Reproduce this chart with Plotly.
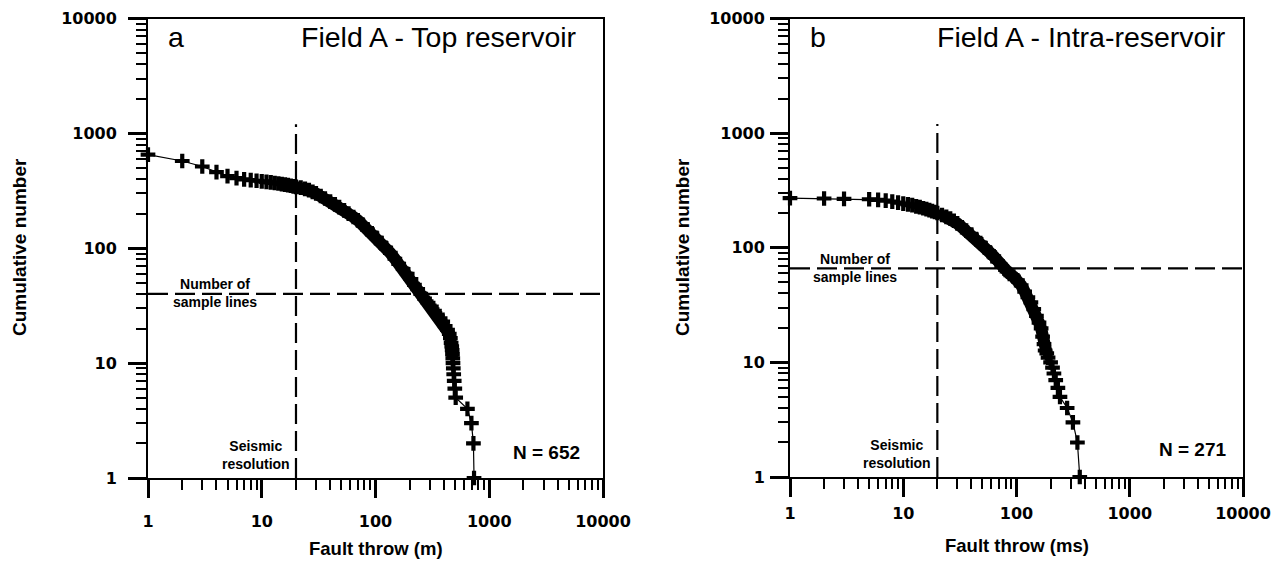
import plotly.graph_objects as go

W, H = 1284, 569
FONT = "Liberation Sans, Arial, sans-serif"
TICKFONT = "DejaVu Sans, Liberation Sans, sans-serif"
OFF = 8  # the page body adds an 8 px margin; positions below are window pixels

# ---------------- data ----------------
# Panel a : Field A - Top reservoir, fault throw (m) vs cumulative number
throw_a = [1, 2, 3, 4, 5, 6, 7, 8, 9, 10, 11, 12, 13, 14, 15, 16, 17, 18, 19, 20,
           22, 24, 26, 28, 30, 33, 36, 40, 44, 48,
           53, 58, 64, 70, 77, 85, 93, 102, 112, 123,
           135, 148, 160, 175, 190, 205, 220, 235, 250, 270,
           290, 310, 330, 350, 370, 390, 410, 430, 445, 455,
           462, 468, 472, 475, 478, 480, 483, 487, 492, 498,
           507, 643, 697, 726, 735]
cum_a = [652, 575, 515, 460, 425, 408, 398, 392, 387, 382, 378, 374, 370, 366, 362, 358, 354, 350, 346, 342,
         337, 329, 320, 310, 300, 285, 271, 255, 241, 228,
         214, 200, 187, 175, 161, 146, 135, 123, 111, 101,
         91, 81, 73, 66, 60, 54, 48, 44, 40, 36.5,
         33.5, 31, 28.5, 26.5, 24.5, 23, 21, 19.5, 18, 16.5,
         15, 14, 13, 12, 11, 10, 9, 8, 7, 6,
         5, 4, 3, 2, 1]
dense_a = (19, 64)   # index span where the plotted points merge into a solid band

# Panel b : Field A - Intra-reservoir, fault throw (ms) vs cumulative number
throw_b = [1, 2, 3, 5, 6, 7, 8, 9, 10, 11, 12, 13, 14, 15, 16, 17, 18, 19, 20,
           22, 24, 26, 28, 30, 33, 36, 40, 44, 48,
           53, 58, 63, 68, 74, 80, 87, 94, 102, 110,
           118, 126, 134, 142, 150, 158, 165, 170, 175, 179,
           185, 190, 200, 208, 214, 222, 232, 242, 280, 315,
           345, 362]
cum_b = [271, 269, 267, 265, 262, 258, 253, 248, 243, 239, 235, 230, 226, 221, 217, 213, 209, 205, 201,
         193, 186, 180, 172, 163, 151, 141, 130, 119, 110,
         100, 91, 84, 76, 69, 64, 59, 56, 52, 47,
         41.5, 37, 33.4, 29.2, 25.4, 22.2, 19.8, 16.8, 14.4, 12.7,
         12, 11, 10, 9, 8, 7, 6, 5, 4, 3,
         2, 1]
dense_b = (19, 49)

seismic_resolution = 20          # vertical dashed line (both panels)
resolution_line_top = 1200
sample_lines_a = 40              # horizontal dashed line, panel a
sample_lines_b = 66              # horizontal dashed line, panel b
axis_min, axis_max = 1, 10000

major_ticks = [1, 10, 100, 1000, 10000]
major_text = ["1", "10", "100", "1000", "10000"]
minor_ticks = [m * 10 ** k for k in range(4) for m in range(2, 10)]

titles = ["Field A - Top reservoir", "Field A - Intra-reservoir"]
letters = ["a", "b"]
n_labels = ["N = 652", "N = 271"]
x_titles = ["Fault throw (m)", "Fault throw (ms)"]
y_title = "Cumulative number"


def px(x):
    return (x - OFF) / W


def py(y):
    return 1 - (y - OFF) / H


fig = go.Figure()

dash = "20px,7px"
for i, (xs, ys, samp, dense) in enumerate([(throw_a, cum_a, sample_lines_a, dense_a),
                                           (throw_b, cum_b, sample_lines_b, dense_b)]):
    xa = "x" if i == 0 else "x2"
    ya = "y" if i == 0 else "y2"
    # dashed reference lines
    fig.add_trace(go.Scatter(x=[seismic_resolution, seismic_resolution],
                             y=[axis_min, resolution_line_top], mode="lines",
                             line=dict(color="black", width=2.2, dash=dash),
                             xaxis=xa, yaxis=ya, showlegend=False, hoverinfo="skip"))
    fig.add_trace(go.Scatter(x=[axis_min, axis_max], y=[samp, samp], mode="lines",
                             line=dict(color="black", width=2.2, dash=dash),
                             xaxis=xa, yaxis=ya, showlegend=False, hoverinfo="skip"))
    # solid band where the many points overlap
    a, b = dense
    fig.add_trace(go.Scatter(x=xs[a:b + 1], y=ys[a:b + 1], mode="lines",
                             line=dict(color="black", width=12),
                             xaxis=xa, yaxis=ya, showlegend=False, hoverinfo="skip"))
    # data
    fig.add_trace(go.Scatter(x=xs, y=ys, mode="lines+markers",
                             line=dict(color="black", width=1.2),
                             marker=dict(symbol="cross-thin", size=10.5,
                                         line=dict(color="black", width=4.2)),
                             cliponaxis=False,
                             xaxis=xa, yaxis=ya, showlegend=False))


def axis(domain, standoff):
    return dict(type="log", range=[0, 4], domain=domain, automargin=False,
                showline=True, linewidth=2, linecolor="black", mirror=True,
                ticks="outside", ticklen=18, tickwidth=2.5, tickcolor="black",
                tickvals=major_ticks, ticktext=major_text,
                tickfont=dict(family=TICKFONT, size=16, color="black", weight="bold"),
                ticklabelstandoff=standoff, ticklabeloverflow="allow",
                showgrid=False, zeroline=False,
                minor=dict(tickvals=minor_ticks, ticklen=10, tickwidth=2,
                           ticks="outside", tickcolor="black", showgrid=False))


fig.update_layout(
    width=W, height=H,
    margin=dict(l=0, r=0, t=0, b=0, pad=0, autoexpand=False),
    paper_bgcolor="white", plot_bgcolor="white",
    showlegend=False,
    xaxis=dict(axis([px(148), px(603)], 10), anchor="y"),
    yaxis=dict(axis([py(478), py(18.5)], 8), anchor="x"),
    xaxis2=dict(axis([px(790), px(1243)], 3), anchor="y2"),
    yaxis2=dict(axis([py(477), py(18.5)], 2), anchor="x2"),
)

ann = []


def text(x, y, s, size, bold=False, xanchor="center", angle=0):
    ann.append(dict(x=px(x), y=py(y), xref="paper", yref="paper", text=s,
                    showarrow=False, xanchor=xanchor, yanchor="middle",
                    textangle=angle, align="center",
                    font=dict(family=FONT, size=size, color="black",
                              weight="bold" if bold else "normal")))


# panel a
text(166, 37, letters[0], 28.5, xanchor="left")
text(579, 37, titles[0], 28.5, xanchor="right")
text(546, 452, n_labels[0], 19, bold=True)
text(215, 293, "Number of<br>sample lines", 14, bold=True)
text(256, 455, "Seismic<br>resolution", 14, bold=True)
text(20, 247, y_title, 19, bold=True, angle=-90)
text(376, 548, x_titles[0], 18.5, bold=True)
# panel b
text(808, 37, letters[1], 28.5, xanchor="left")
text(1228, 37, titles[1], 28.5, xanchor="right")
text(1193, 450, n_labels[1], 19, bold=True)
text(855, 268, "Number of<br>sample lines", 14, bold=True)
text(897, 454, "Seismic<br>resolution", 14, bold=True)
text(683, 247, y_title, 19, bold=True, angle=-90)
text(1017, 545, x_titles[1], 18.5, bold=True)

fig.update_layout(annotations=ann)
fig.write_html("out.html")
